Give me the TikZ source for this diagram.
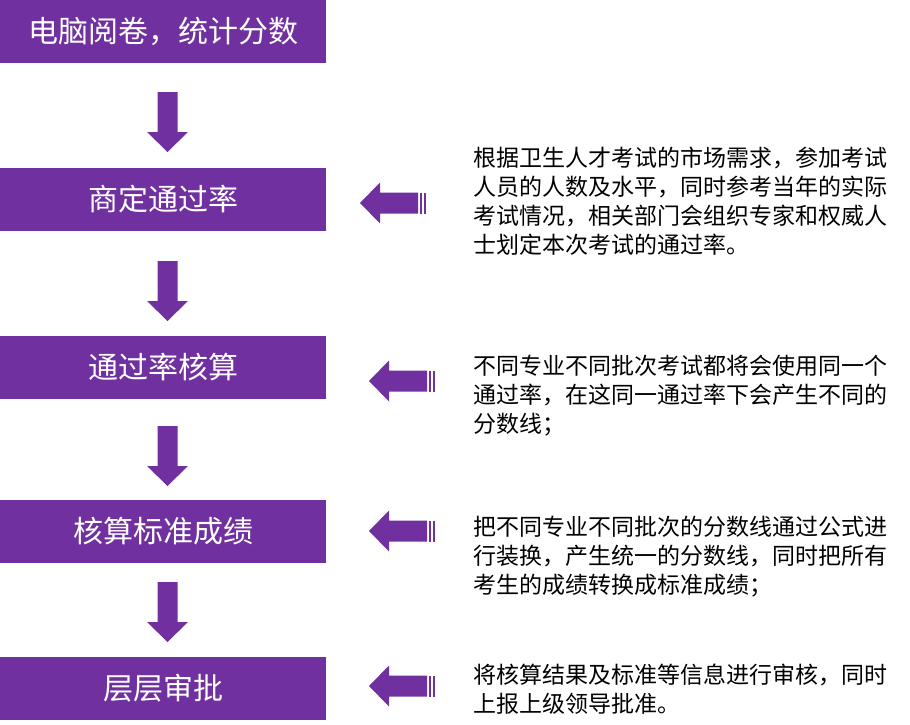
\documentclass[tikz,border=0pt]{standalone}
\usepackage{fontspec}
\setmainfont{Noto Sans CJK SC}
\usetikzlibrary{positioning}

\definecolor{lila}{HTML}{7030A0}

\begin{document}
\begin{tikzpicture}[
    x=1pt, y=-1pt,
    schritt/.style={
      rectangle,
      fill=lila,
      text=white,
      minimum width=326pt,
      minimum height=63pt,
      inner sep=0pt,
      font=\fontsize{30}{36}\selectfont},
    erklaerung/.style={
      anchor=north west,
      align=left,
      inner sep=0pt,
      font=\fontsize{23}{29}\selectfont},
    runterpfeil/.pic={
      \fill[lila] (-10,0) -- (10,0) -- (10,40) -- (20.5,40) -- (0,60)
        -- (-20.5,40) -- (-10,40) -- cycle;
      },
    linkspfeil/.pic={
      \fill[lila] (0,0) -- (20,-20.5) -- (20,-10.5) -- (58,-10.5) -- (58,10.5)
        -- (20,10.5) -- (20,20.5) -- cycle;
      \foreach \x in {59.5,64}
       \fill[lila] (\x,-10.5) rectangle +(2,21);
      }
    ]

  \useasboundingbox (0,0) rectangle (910,725);

  \node at (163, 31.5) (schritt1) [schritt] {电脑阅卷，统计分数};
\node at (163, 199.5) (schritt2) [schritt] {商定通过率};
\node at (163, 367.5) (schritt3) [schritt] {通过率核算};
\node at (163, 531) (schritt4) [schritt] {核算标准成绩};
\node at (163, 688) (schritt5) [schritt] {层层审批};



\pic at (167.5, 92) {runterpfeil};
\pic at (167.5, 261) {runterpfeil};
\pic at (167.5, 426) {runterpfeil};
\pic at (167.5, 582) {runterpfeil};

\pic at (360, 203) {linkspfeil};
\pic at (369, 381) {linkspfeil};
\pic at (369, 531) {linkspfeil};
\pic at (369, 686) {linkspfeil};



\node at (473, 147) (text2) [erklaerung] {根据卫生人才考试的市场需求，参加考试\\人员的人数及水平，同时参考当年的实际\\考试情况，相关部门会组织专家和权威人\\士划定本次考试的通过率。};
\node at (473, 355) (text3) [erklaerung] {不同专业不同批次考试都将会使用同一个\\通过率，在这同一通过率下会产生不同的\\分数线；};
\node at (473, 516) (text4) [erklaerung] {把不同专业不同批次的分数线通过公式进\\行装换，产生统一的分数线，同时把所有\\考生的成绩转换成标准成绩；};
\node at (473, 664) (text5) [erklaerung] {将核算结果及标准等信息进行审核，同时\\上报上级领导批准。};

\end{tikzpicture}
\end{document}
